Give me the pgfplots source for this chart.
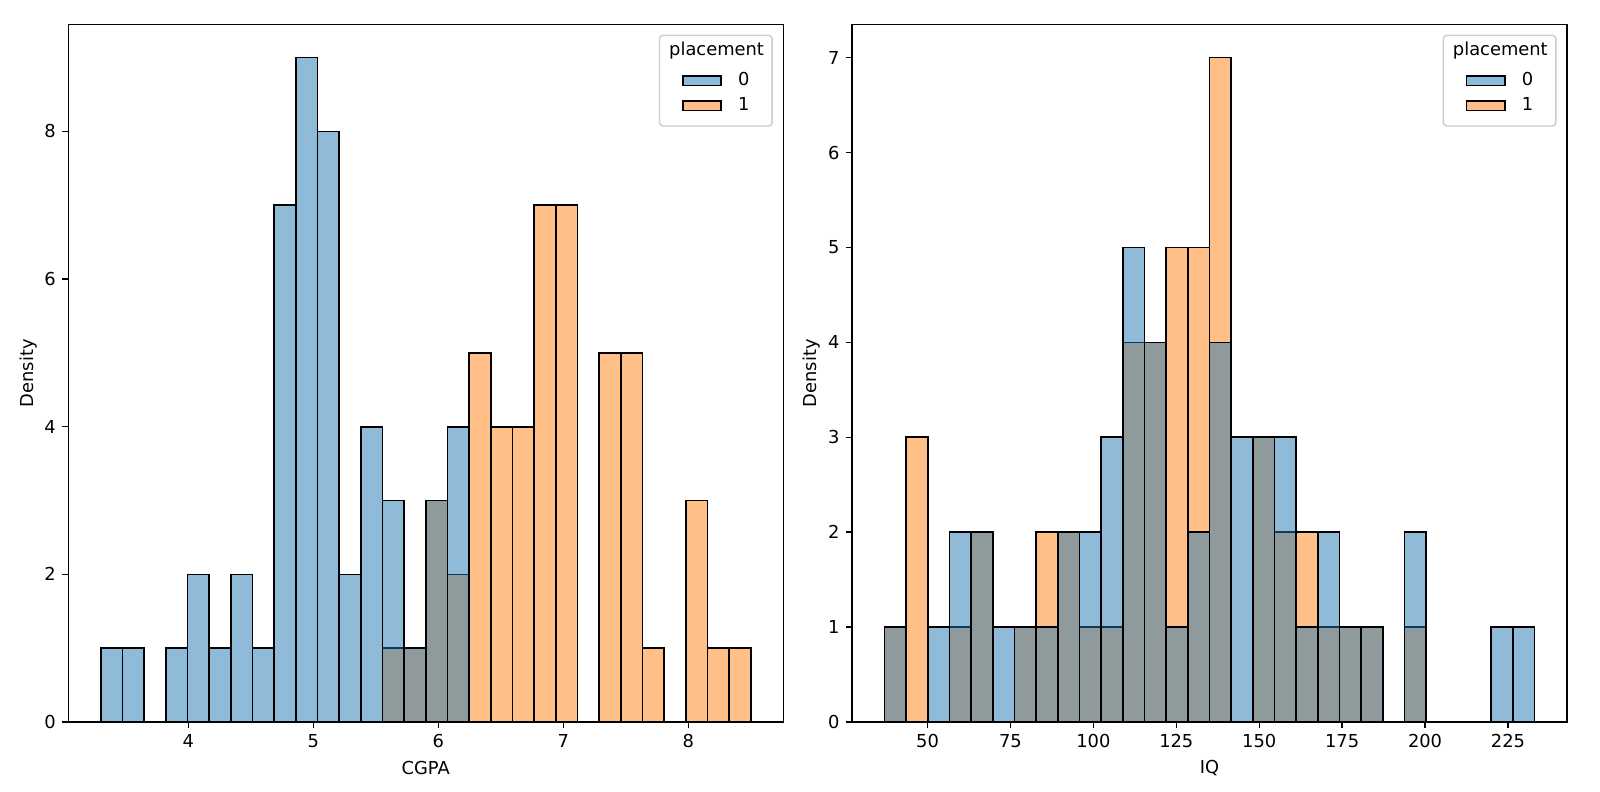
\documentclass[border=0pt]{standalone}
\usepackage{fontspec}
\setmainfont{DejaVu Sans}
\usepackage{pgfplots}
\usepackage{pgfplotstable}
\pgfplotsset{compat=1.18}

\definecolor{tabblue}{HTML}{1F77B4}
\definecolor{taborange}{HTML}{FF7F0E}
\definecolor{legedge}{gray}{0.8}

% CGPA, 30 bins: left edge, count placement=0, count placement=1
% (last row only closes the last bin)
\pgfplotstableread{
x        n0  n1
3.3      1   0
3.47333  1   0
3.64667  0   0
3.82     1   0
3.99333  2   0
4.16667  1   0
4.34     2   0
4.51333  1   0
4.68667  7   0
4.86     9   0
5.03333  8   0
5.20667  2   0
5.38     4   0
5.55333  3   1
5.72667  1   1
5.9      3   3
6.07333  4   2
6.24667  0   5
6.42     0   4
6.59333  0   4
6.76667  0   7
6.94     0   7
7.11333  0   0
7.28667  0   5
7.46     0   5
7.63333  0   1
7.80667  0   0
7.98     0   3
8.15333  0   1
8.32667  0   1
8.5      0   0
}\cgpa

% IQ, 30 bins
\pgfplotstableread{
x        n0  n1
37       1   1
43.5333  0   3
50.0667  1   0
56.6     2   1
63.1333  2   2
69.6667  1   0
76.2     1   1
82.7333  1   2
89.2667  2   2
95.8     2   1
102.333  3   1
108.867  5   4
115.4    4   4
121.933  1   5
128.467  2   5
135      4   7
141.533  3   0
148.067  3   3
154.6    3   2
161.133  1   2
167.667  2   1
174.2    1   1
180.733  1   1
187.267  0   0
193.8    2   1
200.333  0   0
206.867  0   0
213.4    0   0
219.933  1   0
226.467  1   0
233      0   0
}\iq

\pgfplotsset{
  hist axis/.style={
    scale only axis, width=400.4pt, height=390.6pt,
    anchor=south west, ymin=0,
    axis line style={line width=0.78pt},
    tick align=outside, tick pos=left,
    major tick length=3.4pt,
    every tick/.append style={black, line width=0.78pt},
    tick label style={font=\fontsize{10}{12}\selectfont},
    /pgf/number format/assume math mode=true,
    ylabel={Density},
    label style={font=\fontsize{10}{12}\selectfont},
    ylabel style={at={([xshift=-22.4pt]axis description cs:0,0.5)}, anchor=center},
    xlabel style={at={([yshift=-26pt]axis description cs:0.5,0)}, anchor=center},
    legend cell align=left,
    legend style={at={(1,1)}, anchor=north east, xshift=-5.8pt, yshift=-5.7pt,
      draw=legedge, line width=0.78pt, rounded corners=2pt, fill=white,
      inner xsep=4.6pt, inner ysep=6.65pt,
      column sep=9pt, row sep=4.5pt,
      nodes={inner sep=0pt, text height=7.3pt, text depth=2.2pt,
        font=\fontsize{10}{12}\selectfont}},
    axis on top,
  },
  hist/.style={ybar interval, draw=black, line width=0.9pt,
    fill=#1, fill opacity=0.5, forget plot},
  hist key/.style={legend image code/.code={
      \path (0pt,0pt);
      \draw[sharp corners, draw=black, line width=0.9pt, fill=#1, fill opacity=0.5]
        (8.1pt,-2.6pt) rectangle (29.6pt,2.6pt);}},
}

\begin{document}
\begin{tikzpicture}
\useasboundingbox (0,0) rectangle (896pt,443.5pt);

\begin{axis}[hist axis, at={(38.2pt,39.2pt)},
  xmin=3.04, xmax=8.76, ymax=9.45,
  xtick={4,5,6,7,8}, ytick={0,2,4,6,8},
  xlabel={CGPA}]
\addplot[hist=taborange] table[x=x, y=n1] {\cgpa};
\addplot[hist=tabblue] table[x=x, y=n0] {\cgpa};
\addlegendimage{empty legend}
\addlegendentry{\hspace*{-38.6pt}\raisebox{2.4pt}{placement}}
\addlegendimage{hist key=tabblue}
\addlegendentry{0}
\addlegendimage{hist key=taborange}
\addlegendentry{1}
\end{axis}

\begin{axis}[hist axis, at={(477.1pt,39.2pt)},
  xmin=27.2, xmax=242.8, ymax=7.35,
  xtick={50,75,100,125,150,175,200,225}, ytick={0,1,2,3,4,5,6,7},
  xlabel={IQ}]
\addplot[hist=taborange] table[x=x, y=n1] {\iq};
\addplot[hist=tabblue] table[x=x, y=n0] {\iq};
\addlegendimage{empty legend}
\addlegendentry{\hspace*{-38.6pt}\raisebox{2.4pt}{placement}}
\addlegendimage{hist key=tabblue}
\addlegendentry{0}
\addlegendimage{hist key=taborange}
\addlegendentry{1}
\end{axis}
\end{tikzpicture}
\end{document}
